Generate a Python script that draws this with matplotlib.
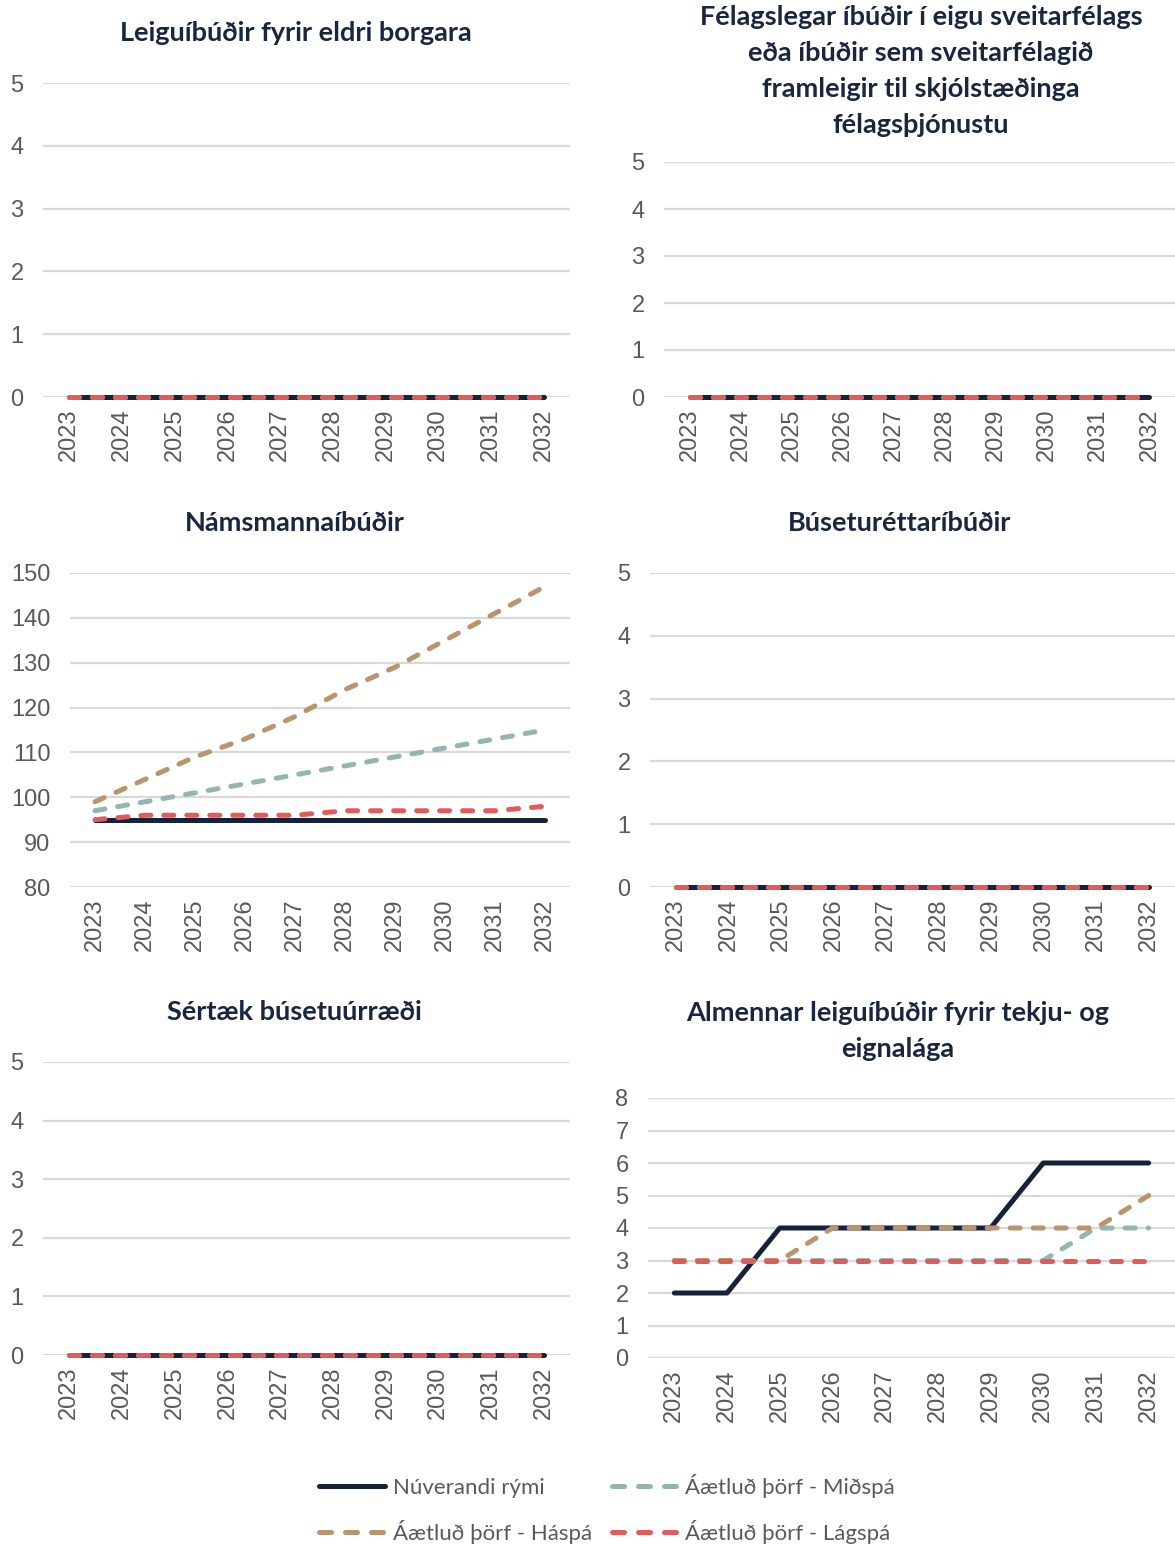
import matplotlib
matplotlib.use("Agg")
import matplotlib.pyplot as plt
from matplotlib.lines import Line2D

W, H = 1175, 1546

years = ["2023", "2024", "2025", "2026", "2027", "2028", "2029", "2030", "2031", "2032"]
series_names = ["Núverandi rými", "Áætluð þörf - Miðspá", "Áætluð þörf - Háspá", "Áætluð þörf - Lágspá"]

zeros = [0] * 10

# Námsmannaíbúðir
nams_nuv = [95, 95, 95, 95, 95, 95, 95, 95, 95, 95]
nams_mid = [97, 99, 101, 103, 105, 107, 109, 111, 113, 115]
nams_ha = [99, 104, 109, 113, 118, 124, 129, 135, 141, 147]
nams_lag = [95, 96, 96, 96, 96, 97, 97, 97, 97, 98]

# Almennar leiguíbúðir fyrir tekju- og eignalága
alm_nuv = [2, 2, 4, 4, 4, 4, 4, 6, 6, 6]
alm_mid = [3, 3, 3, 3, 3, 3, 3, 3, 4, 4]
alm_ha = [3, 3, 3, 4, 4, 4, 4, 4, 4, 5]
alm_lag = [3, 3, 3, 3, 3, 3, 3, 3, 3, 3]

colors = ["#16213a", "#95b5b2", "#b9946f", "#e25b5b"]
styles = ["solid", "dash", "dash", "dash"]

TITLE_C = "#1a2540"
TICK_C = "#595959"
GRID_C = "#d9d9d9"

fig = plt.figure(figsize=(W / 100, H / 100), dpi=100)


def add_px(left, top, right, bottom):
    return fig.add_axes([left / W, 1 - bottom / H, (right - left) / W, (bottom - top) / H])


def draw_panel(box, title, tx, ty, data, ylim, yticks):
    ax = add_px(*box)
    x = range(len(years))
    for vals, c, st in zip(data, colors, styles):
        if st == "solid":
            ax.plot(x, vals, color=c, lw=3.6, solid_capstyle="round", clip_on=False)
        else:
            ax.plot(x, vals, color=c, lw=3.6, dashes=(2.0, 2.6),
                    dash_capstyle="round", clip_on=False)
    ax.set_xlim(-0.5, len(years) - 0.5)
    ax.set_ylim(*ylim)
    ax.set_yticks(yticks)
    ax.set_xticks(list(x))
    ax.set_xticklabels(years, rotation=90)
    for s in ax.spines.values():
        s.set_visible(False)
    ax.grid(axis="y", color=GRID_C, lw=1.6)
    ax.set_axisbelow(True)
    ax.tick_params(axis="both", length=0, colors=TICK_C, labelsize=17)
    ax.tick_params(axis="y", pad=14)
    ax.tick_params(axis="x", pad=8)
    for lab in ax.get_xticklabels() + ax.get_yticklabels():
        lab.set_fontfamily("Liberation Sans")
    fig.text(tx / W, 1 - ty / H, title, ha="center", va="center", fontsize=19.5,
             fontweight="bold", color=TITLE_C, family="Lato", linespacing=1.6)
    return ax


zero_data = [zeros, zeros, zeros, zeros]

draw_panel((43, 83, 570, 397), "Leiguíbúðir fyrir eldri borgara", 296, 33,
           zero_data, (0, 5), range(0, 6))
draw_panel((664, 162, 1175, 397),
           "Félagslegar íbúðir í eigu sveitarfélags\neða íbúðir sem sveitarfélagið\n"
           "framleigir til skjólstæðinga\nfélagsþjónustu", 921, 71,
           zero_data, (0, 5), range(0, 6))
draw_panel((70, 573, 570, 887), "Námsmannaíbúðir", 295, 523,
           [nams_nuv, nams_mid, nams_ha, nams_lag], (80, 150), range(80, 151, 10))
draw_panel((650, 573, 1175, 887), "Búseturéttaríbúðir", 900, 523,
           zero_data, (0, 5), range(0, 6))
draw_panel((43, 1062, 570, 1355), "Sértæk búsetuúrræði", 294, 1012,
           zero_data, (0, 5), range(0, 6))
draw_panel((648, 1098, 1175, 1358), "Almennar leiguíbúðir fyrir tekju- og\neignalága", 898, 1031,
           [alm_nuv, alm_mid, alm_ha, alm_lag], (0, 8), range(0, 9))

# legend: row 1 Núverandi / Miðspá, row 2 Háspá / Lágspá
handles = []
for c, st in zip(colors, styles):
    if st == "solid":
        handles.append(Line2D([], [], color=c, lw=3.6, solid_capstyle="round"))
    else:
        handles.append(Line2D([], [], color=c, lw=3.6, dashes=(2.4, 2.8), dash_capstyle="round"))
order = [0, 2, 1, 3]
leg = fig.legend([handles[i] for i in order], [series_names[i] for i in order],
                 loc="center", bbox_to_anchor=(607 / W, 1 - 1509 / H), ncol=2,
                 frameon=False, handlelength=2.95, handletextpad=0.35, columnspacing=0.9,
                 labelspacing=1.0, prop={"family": "Lato", "size": 16})
for t in leg.get_texts():
    t.set_color(TICK_C)

fig.savefig("out.png", dpi=100)
